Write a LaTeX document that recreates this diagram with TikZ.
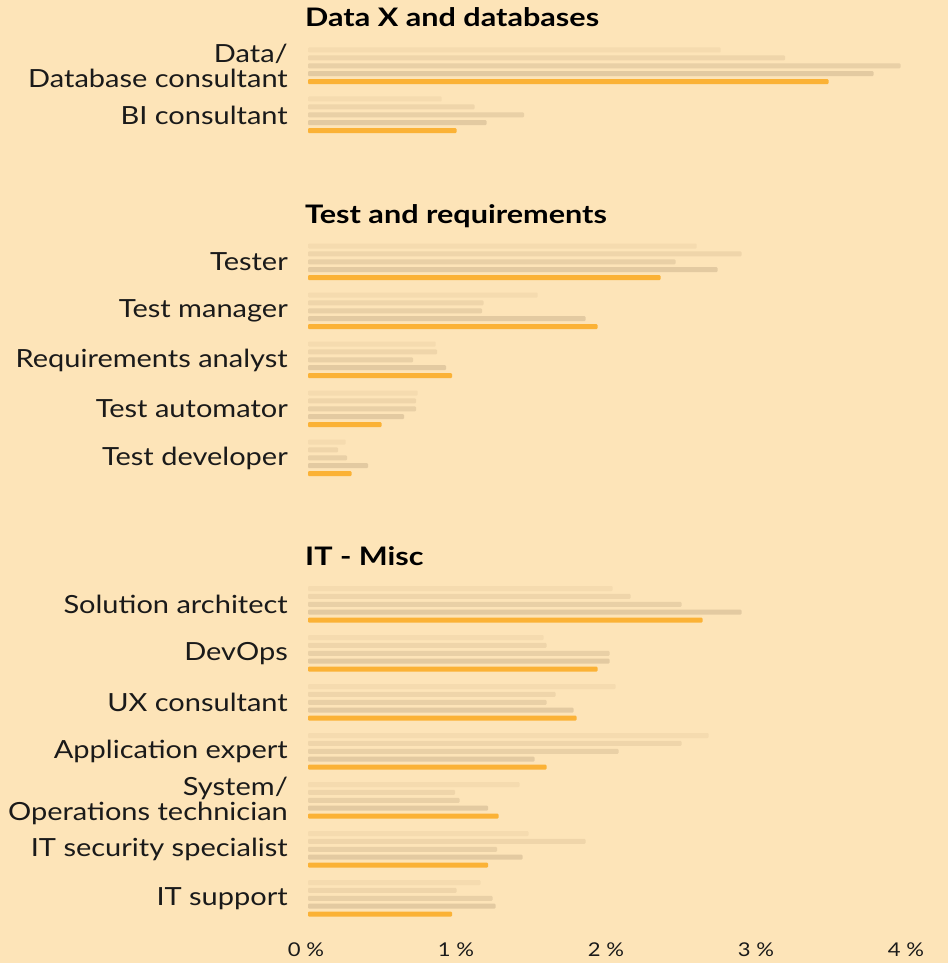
\documentclass[tikz,border=0pt]{standalone}
\usepackage{fontspec}
\setmainfont[FakeStretch=1.16]{Lato}
\newfontfamily\headfont[FakeStretch=1.2]{Lato}
\definecolor{bgcol}{HTML}{FDE4B8}
\definecolor{bar1}{HTML}{F5DBAF}
\definecolor{bar2}{HTML}{EFD5AA}
\definecolor{bar3}{HTML}{E9D0A6}
\definecolor{bar4}{HTML}{E3CAA1}
\definecolor{barnow}{HTML}{FBB236}
\definecolor{ink}{HTML}{1A1A1A}
\begin{document}
\begin{tikzpicture}[x=1pt,y=-1pt,
  rolelabel/.style={anchor=east,align=right,inner sep=0pt,text=ink,
    font=\fontsize{25}{25}\selectfont},
  grouphead/.style={anchor=base west,inner sep=0pt,
    font=\fontsize{25.5}{26}\headfont\bfseries},
  ticklabel/.style={anchor=base,inner sep=0pt,text=ink,
    font=\fontsize{19}{20}\selectfont}]
  \fill[bgcol] (0,0) rectangle (948,963);
  \useasboundingbox (0,0) rectangle (948,963);

  % Data X and databases
  \begin{scope}
    \node[grouphead] (headdata) at (305,27) {Data X and databases};
    \foreach \y/\nm/\lab/\a/\b/\c/\d/\e in {
      50/datadb/{Data/\\Database consultant}/2.75/3.18/3.95/3.77/3.47,
      99/bicons/{BI consultant}/0.89/1.11/1.44/1.19/0.99
    } {
      \node[rolelabel] (\nm) at (288,\y+16) {\lab};
      \foreach \v/\col [count=\k from 0] in {\a/bar1,\b/bar2,\c/bar3,\d/bar4,\e/barnow}
        \fill[\col,rounded corners=1pt] (308,\y+7.9*\k-2.5) rectangle (308+150*\v,\y+7.9*\k+2.5);
    }
  \end{scope}

  % Test and requirements
  \begin{scope}
    \node[grouphead] (headtest) at (305,223) {Test and requirements};
    \foreach \y/\nm/\lab/\a/\b/\c/\d/\e in {
      246/tester/{Tester}/2.59/2.89/2.45/2.73/2.35,
      295/testmgr/{Test manager}/1.53/1.17/1.16/1.85/1.93,
      344/reqana/{Requirements analyst}/0.85/0.86/0.70/0.92/0.96,
      393/testauto/{Test automator}/0.73/0.72/0.72/0.64/0.49,
      442/testdev/{Test developer}/0.25/0.20/0.26/0.40/0.29
    } {
      \node[rolelabel] (\nm) at (288,\y+16) {\lab};
      \foreach \v/\col [count=\k from 0] in {\a/bar1,\b/bar2,\c/bar3,\d/bar4,\e/barnow}
        \fill[\col,rounded corners=1pt] (308,\y+7.9*\k-2.5) rectangle (308+150*\v,\y+7.9*\k+2.5);
    }
  \end{scope}

  % IT - Misc
  \begin{scope}
    \node[grouphead] (headmisc) at (305,565.5) {IT - Misc};
    \foreach \y/\nm/\lab/\a/\b/\c/\d/\e in {
      588.5/solarch/{Solution architect}/2.03/2.15/2.49/2.89/2.63,
      637.5/devops/{DevOps}/1.57/1.59/2.01/2.01/1.93,
      686.5/uxcons/{UX consultant}/2.05/1.65/1.59/1.77/1.79,
      735.5/appexp/{Application expert}/2.67/2.49/2.07/1.51/1.59,
      784.5/sysops/{System/\\Operations technician}/1.41/0.98/1.01/1.20/1.27,
      833.5/itsec/{IT security specialist}/1.47/1.85/1.26/1.43/1.20,
      882.5/itsup/{IT support}/1.15/0.99/1.23/1.25/0.96
    } {
      \node[rolelabel] (\nm) at (288,\y+16) {\lab};
      \foreach \v/\col [count=\k from 0] in {\a/bar1,\b/bar2,\c/bar3,\d/bar4,\e/barnow}
        \fill[\col,rounded corners=1pt] (308,\y+7.9*\k-2.5) rectangle (308+150*\v,\y+7.9*\k+2.5);
    }
  \end{scope}

  % axis
  \foreach \t in {0,...,4}
    \node[ticklabel] (tick\t) at (306+150*\t,956) {\t{} \%};
\end{tikzpicture}
\end{document}
